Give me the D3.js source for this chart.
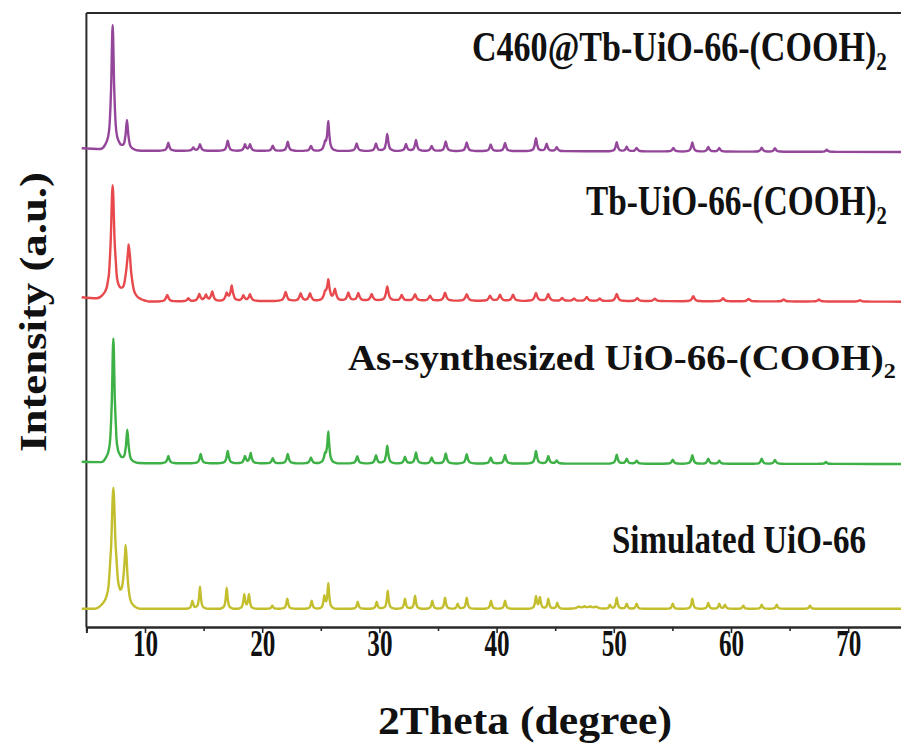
<!DOCTYPE html>
<html>
<head>
<meta charset="utf-8">
<script src="https://cdn.jsdelivr.net/npm/d3@7"></script>
<style>
  body { margin: 0; background: #fff; }
  text { font-family: "Liberation Serif", "Times New Roman", serif; font-weight: bold; fill: #111; }
</style>
</head>
<body>
<svg id="chart" width="901" height="747"></svg>
<script>
// ---- data ---------------------------------------------------------------
// 2θ range of the scan and tick values
const xDomain = [5, 75];
const majorTicks = [10, 20, 30, 40, 50, 60, 70];
const minorTicks = [5, 15, 25, 35, 45, 55, 65, 75];

// pattern names, bottom to top (the trailing subscript is drawn separately)
const seriesNames = ["Simulated UiO-66", "As-synthesized UiO-66-(COOH)", "Tb-UiO-66-(COOH)", "C460@Tb-UiO-66-(COOH)"];
const seriesSubs  = ["", "2", "2", "2"];

// background level of each stacked pattern: [2θ, intensity]
const simulatedBackground = [[4.6, 18.2], [75, 18.2]];
const asSynthBackground   = [[4.6, 165.3], [10, 163.8], [40, 163.5], [75, 163]];
const tbBackground        = [[4.6, 329.7], [10, 325.5], [30, 326.5], [75, 325.3]];
const c460Background      = [[4.6, 478.7], [10, 476.3], [40, 476], [75, 475]];

// reflections: [2θ, height above background, FWHM in degrees (optional)]
const simulatedPeaks = [[7.30,120,0.40],[8.35,60,0.32],[14.04,8],[14.69,22],[16.97,21],[18.47,14],[18.87,14],[20.86,3],
  [22.14,10],[24.22,8],[25.30,12],[25.64,25],[28.15,7],[29.77,7],[30.71,18],[32.18,10],[33.04,13],[34.51,8],[35.60,11],
  [36.68,5],[37.45,11],[39.52,8],[40.72,8],[43.36,12],[43.70,11],[44.41,10],[45.18,6],[47.0,2,0.35],[47.5,2,0.35],
  [48.0,2,0.35],[48.5,2,0.35],[49.67,4],[50.25,11],[51.10,5],[51.95,5],[55.03,5],[56.70,10],[58.06,6],[59.00,5],
  [59.49,4],[61.05,3],[62.62,4],[63.90,4],[66.74,3]];
const asSynthPeaks = [[7.30,124,0.26],[8.49,33,0.24],[11.99,7.3],[14.75,9.3],[17.06,12.3],[18.53,7],[19.02,10],[20.9,5],
  [22.18,9.3],[24.16,6],[25.36,7.5],[25.64,31],[28.11,7.3],[29.71,8.3],[30.67,17.6],[32.18,6.6],[33.12,11],[34.46,6],
  [35.66,10],[37.45,9.3],[39.5,6],[40.72,8.5],[43.36,12.5],[44.41,7.5],[45.13,3],[50.25,9],[51.1,5],[51.95,3],[55.03,4],
  [56.7,8.5],[58.06,5],[59.0,3],[62.62,5],[63.75,4],[68.1,2]];
const tbPeaks = [[7.24,113,0.34],[8.61,56,0.43],[11.9,6.5],[13.69,3],[14.63,7],[15.2,6],[15.74,9.5],[16.97,7.5],[17.4,15],
  [18.39,5.5],[18.96,6.5],[22.0,9],[23.28,7.5],[24.08,7.5],[25.36,7],[25.64,20],[26.21,11],[27.35,8],[28.2,7.5],
  [29.34,6.5],[30.67,14],[31.9,5.5],[33.04,6.5],[34.32,5],[35.6,8],[37.45,6.5],[39.44,5],[40.29,6],[41.4,6],[43.36,8],
  [44.41,7],[45.6,3],[46.6,2.5],[47.69,4],[48.8,2.5],[50.25,7],[52.0,3],[53.5,2.5],[56.78,5],[59.32,3],[61.5,2.5],
  [64.5,2],[67.5,2],[71,1.5]];
const c460Peaks = [[7.24,124.5,0.26],[8.46,30,0.24],[11.99,8],[14.12,3],[14.69,6.5],[17.06,10],[18.53,6.2],[18.96,6.2],
  [20.9,5],[22.18,9],[24.16,5],[25.36,7],[25.64,29],[28.06,7.5],[29.71,7.5],[30.67,17],[32.27,7],[33.12,11],[34.46,5],
  [35.66,9.5],[37.45,8.5],[39.5,6.5],[40.72,8],[43.36,13],[44.27,7.5],[45.13,4],[50.25,9],[51.1,4.5],[51.95,3.5],
  [55.08,3.5],[56.7,9],[58.06,4.5],[59.0,3.5],[62.62,4],[63.75,3.5],[68.17,2]];

// ---- styling ------------------------------------------------------------
const seriesColors = ["#c3be2d", "#3db146", "#e8494d", "#94479a"];
const defaultFwhm  = [0.17, 0.2, 0.24, 0.2];

const series = [
  { bg: simulatedBackground, peaks: simulatedPeaks },
  { bg: asSynthBackground,   peaks: asSynthPeaks },
  { bg: tbBackground,        peaks: tbPeaks },
  { bg: c460Background,      peaks: c460Peaks }
];

// ---- layout -------------------------------------------------------------
const svg = d3.select("#chart");
const plot = { left: 86.4, right: 906.8, top: 13, bottom: 627 };

const x = d3.scaleLinear().domain(xDomain).range([plot.left, plot.right]);
const y = d3.scaleLinear().domain([0, plot.bottom - plot.top]).range([plot.bottom, plot.top]);

// Lorentzian-like line profile as breakpoints (offset in FWHM units, relative height)
const profileX = [0, 0.5, 1, 1.5, 2.5, 4];
const profileY = [1, 0.5, 0.2, 0.1, 0.035, 0];
const profile = d3.scaleLinear().domain(profileX).range(profileY).clamp(true);

function buildPoints(sr, fwhm) {
  const pk = sr.peaks.map(p => ({ c: p[0], h: p[1], f: p[2] || fwhm }));
  let xs = sr.bg.map(d => d[0]);
  pk.forEach(p => profileX.forEach(k => { xs.push(p.c - k * p.f, p.c + k * p.f); }));
  const lo = sr.bg[0][0], hi = sr.bg[sr.bg.length - 1][0];
  xs = Array.from(new Set(xs.map(v => +v.toFixed(4)))).filter(v => v >= lo && v <= hi).sort((a, b) => a - b);
  const bgScale = d3.scaleLinear().domain(sr.bg.map(d => d[0])).range(sr.bg.map(d => d[1]));
  return xs.map(v => [v, bgScale(v) + d3.sum(pk, p => p.h * profile(Math.abs(v - p.c) / p.f))]);
}

const line = d3.line().x(d => x(d[0])).y(d => y(d[1])).curve(d3.curveMonotoneX);

// frame: top border and left axis line
svg.append("line").attr("x1", plot.left).attr("x2", 901).attr("y1", plot.top).attr("y2", plot.top)
  .attr("stroke", "#2a2a2a").attr("stroke-width", 2);
svg.append("line").attr("x1", plot.left).attr("x2", plot.left).attr("y1", plot.top).attr("y2", plot.bottom)
  .attr("stroke", "#2a2a2a").attr("stroke-width", 2);

// patterns
series.forEach((sr, i) => {
  svg.append("path").datum(buildPoints(sr, defaultFwhm[i]))
    .attr("fill", "none").attr("stroke", seriesColors[i]).attr("stroke-width", 2.4)
    .attr("stroke-linejoin", "round").attr("d", line);
});

// bottom axis: minor then major ticks
const minorAxis = svg.append("g").attr("transform", `translate(0,${plot.bottom})`)
  .call(d3.axisBottom(x).tickValues(minorTicks).tickSize(4).tickFormat(""));
const majorAxis = svg.append("g").attr("transform", `translate(0,${plot.bottom})`)
  .call(d3.axisBottom(x).tickValues(majorTicks).tickSize(6).tickFormat(d3.format("d")));
[minorAxis, majorAxis].forEach(g => {
  g.select(".domain").attr("stroke", "#2a2a2a").attr("stroke-width", 2);
  g.selectAll(".tick line").attr("stroke", "#2a2a2a").attr("stroke-width", 1.6);
});
majorAxis.selectAll(".tick text")
  .attr("font-family", "Liberation Serif").attr("font-weight", "bold").attr("font-size", 37)
  .attr("fill", "#111").attr("y", 29).attr("dy", 0)
  .attr("transform", "scale(0.68,1)");

// fit a text element horizontally into [x0, x1]
function fitText(sel, x0, x1) {
  const w = sel.node().getBBox().width;
  const sx = (x1 - x0) / w;
  sel.attr("transform", `translate(${x0},0) scale(${sx},1) translate(${-x0},0)`);
}

// series labels
const labelLayout = [
  { x0: 612, x1: 866, y: 553, fs: 40 },
  { x0: 348, x1: 896, y: 370, fs: 35 },
  { x0: 586, x1: 887, y: 215, fs: 42 },
  { x0: 472, x1: 887, y: 61,  fs: 42 }
];
seriesNames.forEach((name, i) => {
  const L = labelLayout[i];
  const t = svg.append("text").attr("x", L.x0).attr("y", L.y).attr("font-size", L.fs);
  t.append("tspan").text(name);
  if (seriesSubs[i]) t.append("tspan").attr("dy", L.fs * 0.22).attr("font-size", L.fs * 0.62).text(seriesSubs[i]);
  fitText(t, L.x0, L.x1);
});

// axis titles
const xt = svg.append("text").attr("x", 378).attr("y", 734).attr("font-size", 41).text("2Theta (degree)");
fitText(xt, 378, 672);

const yt = svg.append("text").attr("font-size", 38).attr("text-anchor", "middle")
  .attr("transform", "translate(46,312) rotate(-90)").text("Intensity (a.u.)");
const yw = yt.node().getBBox().width;
yt.attr("transform", `translate(46,312) rotate(-90) scale(${280 / yw},1)`);
</script>
</body>
</html>
